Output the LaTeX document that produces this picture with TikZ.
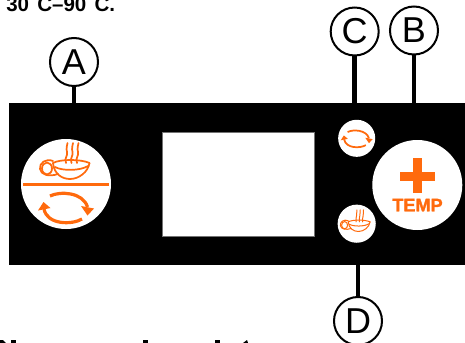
\documentclass[tikz,border=0pt]{standalone}
\usepackage{fontspec}
\setmainfont{Liberation Sans}
\newfontfamily\heavyfont{Liberation Sans Bold}[FakeBold=1.6]
\definecolor{brandorange}{HTML}{FF6A0D}
\tikzset{
  x=0.75pt,y=-0.75pt,
  callout/.style={circle,draw=black,fill=white,line width=1.5pt,minimum size=36pt,inner sep=0pt,outer sep=0pt,font=\fontsize{27}{27}\selectfont},
  stem/.style={line width=3.6pt,black},
  panel/.style={fill=black,draw=none,inner sep=0pt,outer sep=0pt,anchor=north west,minimum width=342pt,minimum height=121.5pt},
  screen/.style={fill=white,draw=black!55,line width=.4pt,inner sep=0pt,outer sep=0pt,anchor=north west,minimum width=114.3pt,minimum height=77.7pt},
  button/.style={circle,fill=white,draw=none,inner sep=0pt,outer sep=0pt},
  ico/.style={draw=brandorange,line cap=round,line join=round},
  cupicon/.pic={
    \draw[ico] (-13,-21) .. controls (-12,-10) and (-4,-5) .. (4,-5) .. controls (13,-5) and (22,-12) .. (23.5,-21);
    \draw[ico] (-13,-21) .. controls (-6,-25) and (15,-25) .. (23.5,-21);
    \draw[ico] (-11,-17) .. controls (-4,-13) and (14,-13) .. (22,-18);
    \draw[ico] (-13,-23) .. controls (-20,-26) and (-27,-21) .. (-26,-15) .. controls (-25,-9) and (-17,-7) .. (-8,-10);
    \draw[ico] (-19,-15.5) ellipse [x radius=5,y radius=6];
    \foreach \sx in {0,5.5,11}{
      \draw[ico] (\sx,-21) .. controls (\sx-2,-26) and (\sx+2,-28) .. (\sx+1,-32) .. controls (\sx,-36) and (\sx+1,-38) .. (\sx+1.5,-41);
    }
  },
  cycleicon/.pic={
    \draw[ico,line cap=butt] (-16,-11) .. controls (-6,-16) and (17,-15) .. (21.5,0);
    \fill[brandorange] (15,-1) -- (28,1.5) -- (21.5,8.5) -- cycle;
    \draw[ico,line cap=butt] (16,12) .. controls (6,18) and (-19,18) .. (-22,2);
    \fill[brandorange] (-28,3.5) -- (-15.5,1) -- (-22.5,-5) -- cycle;
  },
}
\begin{document}
\begin{tikzpicture}
\useasboundingbox (0,0) rectangle (465,343);
\clip (0,0) rectangle (465,343);
\node[anchor=base west,inner sep=0pt,font=\bfseries\fontsize{15.4}{15.4}\selectfont] (range) at (6,11.5) {30\raisebox{3.5pt}{°}C–90\raisebox{3.5pt}{°}C.};

\node[panel] (board) at (9,103) {};
\node[screen] (display) at (162.3,132.7) {};

\node[callout] (A) at (74,62) {A};
\node[callout] (C) at (354.7,31.5) {C};
\node[callout] (B) at (414,30.5) {B};
\node[callout] (D) at (358,321) {D};
\draw[stem] (A.south) -- (A.south |- board.north);
\draw[stem] (C.south) -- (C.south |- board.north);
\draw[stem] (B.south) -- (B.south |- board.north);
\draw[stem] (D.north) -- (D.north |- board.south);

% left button
\node[button,minimum size=67.5pt] (mode) at (66,184) {};
\pic[line width=1.3pt] at (mode.center) {cupicon};
\draw[brandorange,line width=1.9pt] (23,184.3) -- (109,184.3);
\pic[line width=2.4pt] at (66,207) {cycleicon};

% small buttons
\node[button,minimum size=27.8pt] (cycle) at (356.7,138.3) {};
\pic[scale=.57,line width=1.3pt] at (cycle.center) {cycleicon};
\node[button,minimum size=28.6pt] (brew) at (356.7,223.7) {};
\pic[scale=.6,line width=.75pt] at (356,234.5) {cupicon};

% temp button
\node[button,minimum size=67.5pt] (temp) at (417.3,185) {};
\fill[brandorange] (413,158) rectangle (421.7,193.3);
\fill[brandorange] (400,171.7) rectangle (435,180.7);
\node[inner sep=0pt,anchor=base,text=brandorange,font=\heavyfont\fontsize{13.6}{13.6}\selectfont] (templabel) at (417.5,211.3) {TEMP};

% clipped tops of the line of text below
\fill[black] (0,340) -- (3,340) -- (6,343) -- (0,343) -- cycle;
\fill[black] (11,340) rectangle (15.5,343);
\fill[black] (143,340) rectangle (147.5,343);
\fill[black] (215,340) rectangle (219.5,343);
\fill[black] (243,343) -- (247,340) -- (248,343) -- cycle;
\end{tikzpicture}
\end{document}
